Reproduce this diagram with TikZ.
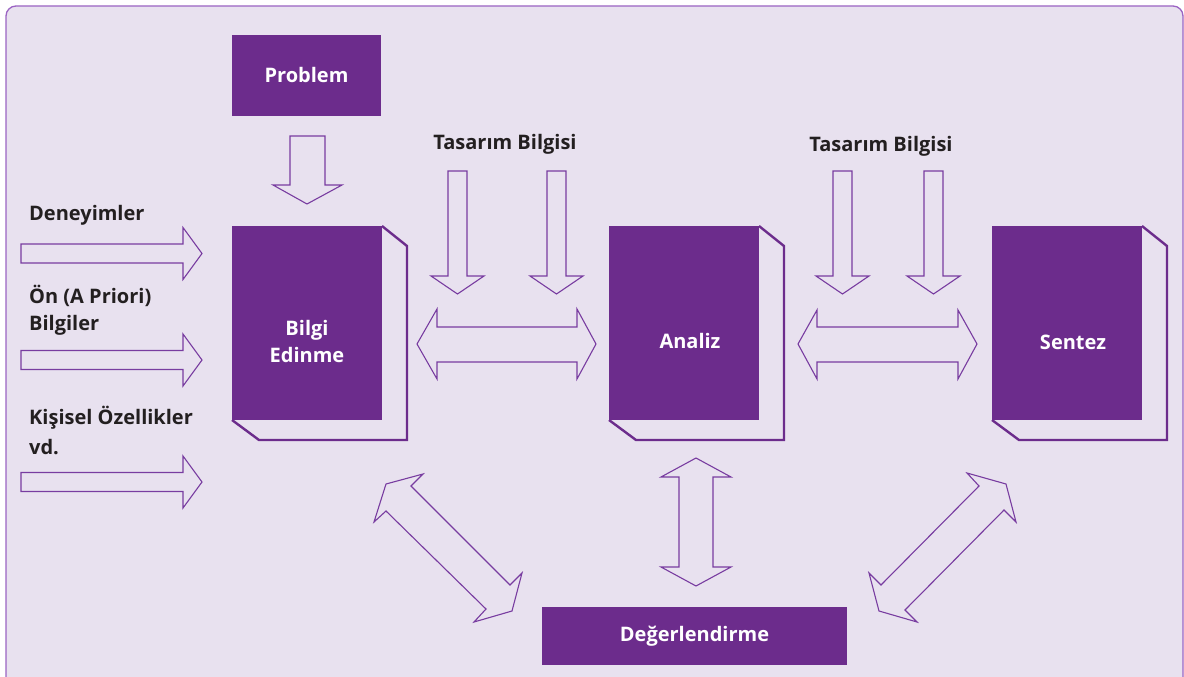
\documentclass[tikz,border=0pt]{standalone}
\usepackage{fontspec}
\setmainfont{Open Sans}
\definecolor{bg}{RGB}{232,225,239}
\definecolor{frame}{RGB}{155,100,195}
\definecolor{pbox}{RGB}{108,44,140}
\definecolor{aline}{RGB}{120,60,160}
\definecolor{txt}{RGB}{35,31,32}
\begin{document}
\begin{tikzpicture}[x=1pt,y=-1pt,
  lbl/.style={font=\bfseries\fontsize{20}{24}\selectfont, text=txt, inner sep=0pt},
  boxtxt/.style={font=\bfseries\fontsize{20}{27}\selectfont, text=white, align=center, inner sep=0pt},
  pfill/.style={fill=pbox, draw=none},
  bookline/.style={draw=pbox, line width=2.4pt, line join=miter},
  blk/.style={draw=aline, line width=1.1pt, fill=none, line join=miter}]
\useasboundingbox (0,0) rectangle (1184,677);
\fill[white] (0,0) rectangle (1184,677);
\begin{scope}
\clip (0,0) rectangle (1184,677);
\draw[frame, fill=bg, line width=1.3pt, rounded corners=10pt] (6,6) rectangle (1183,700);
\end{scope}

% Problem
\fill[pbox] (232,35) rectangle (381,116);
\node[boxtxt] (prob) at (306.5,75.5) {Problem};
\draw[blk] (290,136) -- (325,136) -- (325,185) -- (342,185) -- (307,204) -- (273,185) -- (290,185) -- cycle;

% Books
\foreach \x/\n in {232/a, 609/b, 992/c}{
  \fill[pbox] (\x,226) rectangle ({\x+150},420);
  \draw[bookline] ({\x+150},226) -- ({\x+175},246) -- ({\x+175},440) -- ({\x+27},440) -- (\x,420);
}
\node[boxtxt] (bilgi) at (307,341) {Bilgi\\Edinme};
\node[boxtxt] (analiz) at (690,341) {Analiz};
\node[boxtxt] (sentez) at (1073,342) {Sentez};

% Degerlendirme
\fill[pbox] (542,607) rectangle (847,665);
\node[boxtxt] (deg) at (694.5,636) {Değerlendirme};

% Left labels
\node[lbl, anchor=west] (l1) at (29,215) {Deneyimler};
\node[lbl, anchor=west] (l2) at (29,296) {Ön (A Priori)};
\node[lbl, anchor=west] (l3) at (29,325) {Bilgiler};
\node[lbl, anchor=west] (l4) at (29,418) {Kişisel Özellikler};
\node[lbl, anchor=west] (l5) at (29,447) {vd.};

% Left arrows
\foreach \c in {253.5, 360, 482}{
  \draw[blk] (21,{\c-9.5}) -- (183,{\c-9.5}) -- (183,{\c-26}) -- (202,\c) -- (183,{\c+26}) -- (183,{\c+9.5}) -- (21,{\c+9.5}) -- cycle;
}

% Tasarim Bilgisi
\node[lbl] (t1) at (505,144) {Tasarım Bilgisi};
\node[lbl] (t2) at (881,146) {Tasarım Bilgisi};

% Down arrows
\foreach \l in {448, 547, 833, 924}{
  \draw[blk] (\l,171) -- ({\l+19},171) -- ({\l+19},276) -- ({\l+36},276) -- ({\l+9.5},294) -- ({\l-17},276) -- (\l,276) -- cycle;
}

% Horizontal double arrows
\draw[blk] (417,344) -- (437,309) -- (437,327) -- (577,327) -- (577,309) -- (596,344) -- (577,379) -- (577,362) -- (437,362) -- (437,379) -- cycle;
\draw[blk] (798,344) -- (817,310) -- (817,327) -- (958,327) -- (958,310) -- (977,344) -- (958,379) -- (958,362) -- (817,362) -- (817,379) -- cycle;

% Vertical double arrow
\draw[blk] (696,458) -- (731,477) -- (713,477) -- (713,567) -- (731,567) -- (696,586) -- (661,567) -- (679,567) -- (679,477) -- (661,477) -- cycle;

% Diagonal left
\draw[blk] (386,484) -- (423,474) -- (411,486) -- (510,585) -- (522,573) -- (512,611) -- (474,622) -- (486,609) -- (386,511) -- (374,522) -- cycle;
% Diagonal right
\draw[blk] (1006,484) -- (1016,522) -- (1004,510) -- (905,610) -- (917,622) -- (879,611) -- (869,573) -- (881,585) -- (979,486) -- (967,473) -- cycle;
\end{tikzpicture}
\end{document}
